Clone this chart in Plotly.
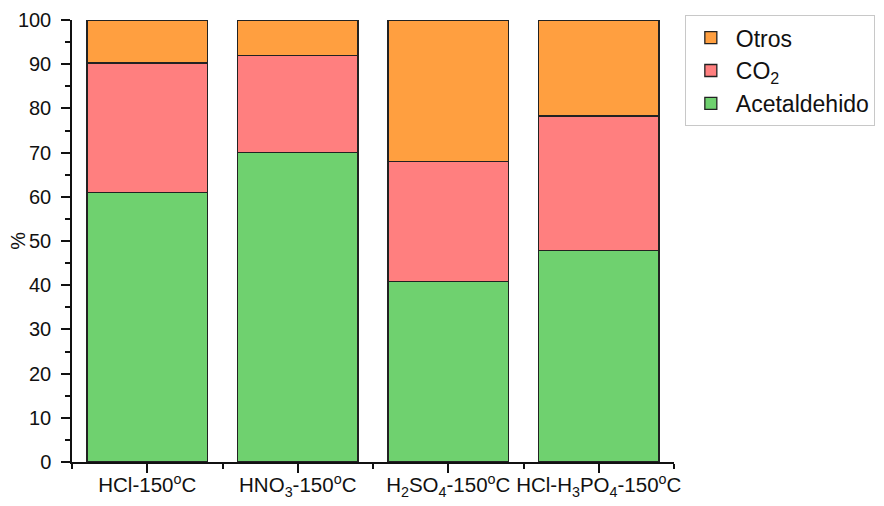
import plotly.graph_objects as go

categories = ["HCl-150<sup>o</sup>C", "HNO<sub>3</sub>-150<sup>o</sup>C",
              "H<sub>2</sub>SO<sub>4</sub>-150<sup>o</sup>C",
              "HCl-H<sub>3</sub>PO<sub>4</sub>-150<sup>o</sup>C"]
positions = [0, 1, 2, 3]
acetaldehido = [60.9, 70.0, 40.9, 47.8]
co2 = [29.4, 21.9, 27.1, 30.5]
otros = [9.7, 8.1, 32.0, 21.7]
y_title = "%"

fig = go.Figure()
series = [("Acetaldehido", acetaldehido, "#6FD16F"),
          ("CO<sub>2</sub>", co2, "#FF7F7F"),
          ("Otros", otros, "#FF9F40")]
for name, vals, col in series:
    fig.add_trace(go.Bar(x=positions, y=vals, name=name, width=0.8,
                         marker=dict(color=col, line=dict(color="#222222", width=1.3))))

font = "Liberation Sans, Arial, sans-serif"
fig.update_layout(
    barmode="stack",
    width=876, height=498,
    margin=dict(l=64, r=210, t=7, b=44),
    plot_bgcolor="white", paper_bgcolor="white",
    font=dict(family=font, size=20, color="#111111"),
    legend=dict(traceorder="reversed", x=1.018, y=1.011, xanchor="left", yanchor="top",
                bordercolor="#C8C8C8", borderwidth=1, bgcolor="white",
                font=dict(size=23), itemwidth=40, tracegroupgap=0),
    xaxis=dict(range=[-0.5, 3.5], tickmode="array", tickvals=positions, ticktext=categories,
               automargin=False, tickfont=dict(size=20.5), tickangle=0,
               ticklabelstandoff=-5,
               showline=True, linecolor="#111111", linewidth=1.5, ticks="outside",
               ticklen=9, tickwidth=1.5, tickcolor="#111111", showgrid=False, zeroline=False,
               minor=dict(tick0=-0.5, dtick=1, ticks="outside", ticklen=5, tickwidth=1.5,
                          tickcolor="#111111", showgrid=False)),
    yaxis=dict(range=[0, 100], dtick=10, showline=True, linecolor="#111111", linewidth=1.5,
               automargin=False, ticklabelstandoff=6,
               ticks="outside", ticklen=9, tickwidth=1.5, tickcolor="#111111",
               showgrid=False, zeroline=False,
               minor=dict(dtick=5, ticks="outside", ticklen=5, tickwidth=1.5,
                          tickcolor="#111111", showgrid=False)),
    annotations=[dict(text=y_title, xref="paper", yref="paper", x=-0.09, y=0.5,
                      xanchor="center", yanchor="middle", textangle=-90, showarrow=False,
                      font=dict(size=20))],
)

fig.write_html("out.html")
